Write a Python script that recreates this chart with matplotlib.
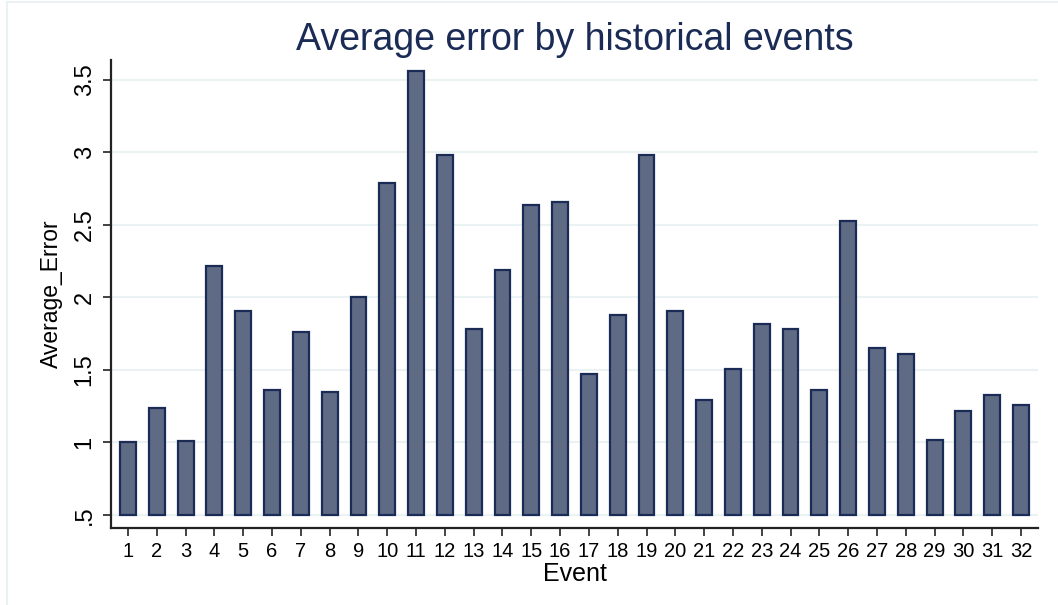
import numpy as np
from matplotlib import pyplot as plt
from matplotlib.lines import Line2D

plt.rcParams["font.family"] = ["Liberation Sans", "DejaVu Sans"]

events = list(range(1, 33))
avg_error = [1.00, 1.24, 1.01, 2.22, 1.91, 1.36, 1.76, 1.35, 2.00, 2.79,
             3.56, 2.98, 1.78, 2.19, 2.64, 2.66, 1.47, 1.88, 2.98, 1.91,
             1.29, 1.51, 1.82, 1.78, 1.36, 2.53, 1.65, 1.61, 1.02, 1.22,
             1.33, 1.26]
y_ticks = [0.5, 1, 1.5, 2, 2.5, 3, 3.5]
y_tick_labels = [".5", "1", "1.5", "2", "2.5", "3", "3.5"]

base = 0.5
navy = "#1a2b55"
grid_col = "#eaf2f3"

fig = plt.figure(figsize=(10.58, 6.05), dpi=100)
ax = fig.add_axes([111 / 1058, 1 - 528 / 605, (1038 - 111) / 1058, (528 - 60) / 605])

heights = np.array(avg_error) - base
ax.bar(events, heights, bottom=base, width=0.55, color="#5f6a85",
       edgecolor=navy, linewidth=1.6, zorder=3)

ax.set_xlim(0.41, 32.59)
ax.set_ylim(0.41, 3.638)
ax.set_yticks(y_ticks)
ax.set_yticklabels(y_tick_labels, rotation=90, va="center", fontsize=17)
ax.set_xticks(events)
ax.tick_params(axis="x", labelsize=14.5, length=6, width=1.2, color="#222222", pad=4)
ax.tick_params(axis="y", length=6, width=1.2, color="#222222", pad=5)
ax.grid(axis="y", color=grid_col, lw=1.5, zorder=0)
ax.grid(axis="x", visible=False)
for s in ("top", "right"):
    ax.spines[s].set_visible(False)
for s in ("left", "bottom"):
    ax.spines[s].set_linewidth(1.6)
    ax.spines[s].set_color("#222222")

ax.set_xlabel("Event", fontsize=18, labelpad=1)
ax.set_ylabel("Average_Error", fontsize=16.5, labelpad=8)
fig.text(575 / 1058, 1 - 40 / 605, "Average error by historical events",
         fontsize=27, color=navy, ha="center", va="center")

# light outer frame on the left and top edges
fig.add_artist(Line2D([6.5 / 1058, 6.5 / 1058], [0, 1 - 2 / 605],
                      transform=fig.transFigure, color=grid_col, lw=1.5))
fig.add_artist(Line2D([6.5 / 1058, 1], [1 - 2 / 605, 1 - 2 / 605],
                      transform=fig.transFigure, color=grid_col, lw=1.5))

fig.savefig("out.png", dpi=100)
